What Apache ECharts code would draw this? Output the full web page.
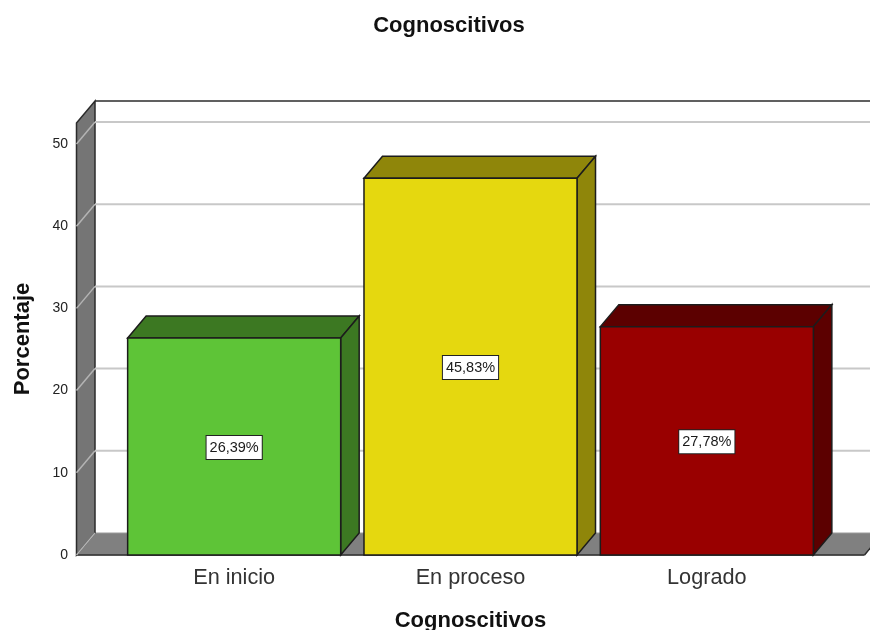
<!DOCTYPE html>
<html>
<head>
<meta charset="utf-8">
<title>Cognoscitivos</title>
<script src="https://cdn.jsdelivr.net/npm/echarts@6/dist/echarts.min.js"></script>
<style>
html,body{margin:0;padding:0;background:#fff;}
#main{width:870px;height:630px;}
</style>
</head>
<body>
<div id="main"></div>
<script>
var categories = ['En inicio', 'En proceso', 'Logrado'];
var percentValues = [26.39, 45.83, 27.78];
var yTicks = [0, 10, 20, 30, 40, 50];
var yMax = 52.55;

// look of the fake 3d box
var depthX = 18.5;
var depthY = 22;
var wallPad = 39.5;
var frontColors = ['#5ec437', '#e5d80f', '#990000'];
var sideColors = ['#3c7822', '#8f860a', '#5c0000'];
var fontName = '"Liberation Sans", Arial, sans-serif';

function poly(points, fill, stroke, width) {
    return {
        type: 'polygon',
        shape: { points: points },
        style: { fill: fill, stroke: stroke, lineWidth: width }
    };
}

function line(points, color, width) {
    return {
        type: 'polyline',
        shape: { points: points },
        style: { fill: null, stroke: color, lineWidth: width }
    };
}

function renderWalls(params, api) {
    var band = api.size([1, 0])[0];
    var origin = api.coord([0, 0]);
    var top = api.coord([0, yMax])[1];
    var left = origin[0] - band / 2 - wallPad;
    var right = origin[0] + band * 2.5 + wallPad;
    var bottom = origin[1];
    return {
        type: 'group',
        children: [
            poly([[left, bottom], [left + depthX, bottom - depthY], [right + depthX, bottom - depthY], [right, bottom]], '#808080', '#9a9a9a', 1),
            poly([[left, top], [left + depthX, top - depthY], [left + depthX, bottom - depthY], [left, bottom]], '#757575', '#2b2b2b', 1.5),
            line([[left + depthX, top - depthY], [right + depthX, top - depthY]], '#2b2b2b', 1.5),
            line([[left, bottom], [right, bottom]], '#2b2b2b', 1.5),
            line([[right, bottom], [right + depthX, bottom - depthY]], '#2b2b2b', 1.5)
        ]
    };
}

function renderGridLines(params, api) {
    var band = api.size([1, 0])[0];
    var p = api.coord([0, api.value(1)]);
    var left = p[0] - band / 2 - wallPad;
    var right = p[0] + band * 2.5 + wallPad;
    var children = [
        line([[left, p[1]], [left + depthX, p[1] - depthY]], '#b4b4b4', 1.5)
    ];
    if (api.value(1) > 0) {
        children.push(line([[left + depthX, p[1] - depthY], [right + depthX, p[1] - depthY]], '#c8c8c8', 2));
    }
    return { type: 'group', children: children };
}

function renderBars(params, api) {
    var i = params.dataIndex;
    var value = api.value(1);
    var center = api.coord([api.value(0), 0]);
    var topY = api.coord([api.value(0), value])[1];
    var midY = api.coord([api.value(0), value / 2])[1];
    var halfW = api.size([1, 0])[0] * 0.9014 / 2;
    var x0 = center[0] - halfW;
    var x1 = center[0] + halfW;
    var y0 = center[1];
    var edge = '#1c1c1c';
    return {
        type: 'group',
        children: [
            poly([[x0, topY], [x0 + depthX, topY - depthY], [x1 + depthX, topY - depthY], [x1, topY]], sideColors[i], edge, 1.5),
            poly([[x1, topY], [x1 + depthX, topY - depthY], [x1 + depthX, y0 - depthY], [x1, y0]], sideColors[i], edge, 1.5),
            poly([[x0, topY], [x1, topY], [x1, y0], [x0, y0]], frontColors[i], edge, 1.5),
            {
                type: 'text',
                x: center[0],
                y: midY + 1,
                style: {
                    text: value.toFixed(2).replace('.', ',') + '%',
                    x: 0,
                    y: 0,
                    align: 'center',
                    verticalAlign: 'middle',
                    fill: '#1a1a1a',
                    font: '14.5px ' + fontName,
                    backgroundColor: '#fff',
                    borderColor: '#222',
                    borderWidth: 1,
                    padding: [4, 3, 4, 3]
                }
            }
        ]
    };
}

var myChart = echarts.init(document.getElementById('main'));
var option = {
    animation: false,
    backgroundColor: '#fff',
    title: {
        text: 'Cognoscitivos',
        left: 444,
        top: 10,
        textAlign: 'center',
        textStyle: { color: '#111', fontFamily: fontName, fontSize: 22, fontWeight: 'bold' }
    },
    grid: { left: 116, top: 123, width: 709, height: 432, outerBoundsMode: 'none' },
    xAxis: {
        type: 'category',
        data: categories,
        name: 'Cognoscitivos',
        nameLocation: 'middle',
        nameGap: 55,
        nameTextStyle: { color: '#111', fontFamily: fontName, fontSize: 22, fontWeight: 'bold' },
        axisLine: { show: false },
        axisTick: { show: false },
        axisLabel: { color: '#333', fontFamily: fontName, fontSize: 21.7, margin: 12 }
    },
    yAxis: {
        type: 'value',
        min: 0,
        max: yMax,
        interval: 10,
        name: 'Porcentaje',
        nameLocation: 'middle',
        nameRotate: 90,
        nameGap: 82,
        nameTextStyle: { color: '#111', fontFamily: fontName, fontSize: 22, fontWeight: 'bold' },
        axisLine: { show: false },
        axisTick: { show: false },
        splitLine: { show: false },
        axisLabel: { customValues: yTicks, color: '#222', fontFamily: fontName, fontSize: 14, margin: 48, lineHeight: 20, padding: [6, 0, 0, 0] }
    },
    series: [
        {
            type: 'custom',
            renderItem: renderWalls,
            data: [[0, 0]],
            z: 1,
            silent: true
        },
        {
            type: 'custom',
            renderItem: renderGridLines,
            data: yTicks.map(function (t) { return [0, t]; }),
            z: 2,
            silent: true
        },
        {
            type: 'custom',
            renderItem: renderBars,
            data: percentValues.map(function (v, i) { return [i, v]; }),
            z: 3
        }
    ]
};
myChart.setOption(option);
</script>
</body>
</html>
